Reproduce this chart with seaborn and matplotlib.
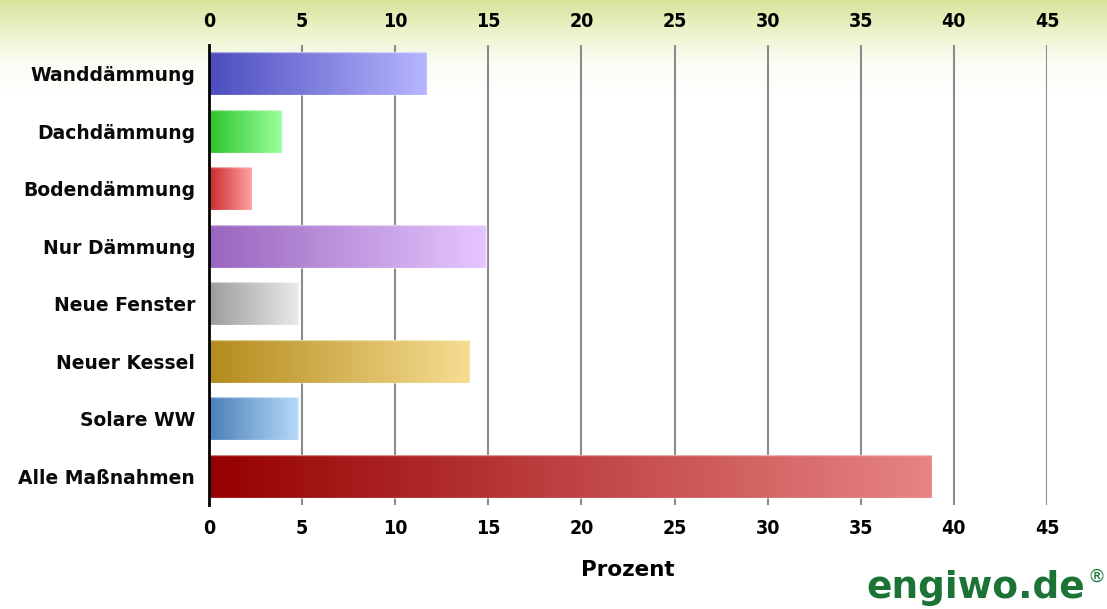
import matplotlib
matplotlib.use("Agg")
import matplotlib.pyplot as plt
import numpy as np
import pandas as pd
import seaborn as sns
from matplotlib import font_manager
from matplotlib.colors import LinearSegmentedColormap

# chart data
categories = ["Wanddämmung", "Dachdämmung", "Bodendämmung", "Nur Dämmung",
              "Neue Fenster", "Neuer Kessel", "Solare WW", "Alle Maßnahmen"]
values = [11.7, 3.9, 2.3, 14.9, 4.8, 14.0, 4.8, 38.8]
x_ticks = [0, 5, 10, 15, 20, 25, 30, 35, 40, 45]

# left (dark) and right (light) end of each bar gradient
grad_start = ["#4c4cbf", "#2cc42c", "#cc2a2a", "#9966bf", "#9c9c9c", "#b38b1c", "#4a7fb8", "#960000"]
grad_end = ["#b6b6ff", "#9cff9c", "#ffa2a2", "#e6c6ff", "#eaeaea", "#f7dd92", "#b6dafa", "#e88484"]

# a condensed face for the axis numbers, if one is installed
condensed = [f for f in font_manager.fontManager.ttflist
             if ("Narrow" in f.name or "Condensed" in f.name or f.stretch in ("condensed", 500 - 200))
             and f.weight in ("bold", 700)]
narrow_prop = font_manager.FontProperties(fname=condensed[0].fname) if condensed else \
    font_manager.FontProperties(family="Liberation Sans", weight="bold")
narrow_prop.set_size(14)

sns.set_style("white")
plt.rcParams["font.family"] = ["DejaVu Sans"]

df = pd.DataFrame({"Kategorie": categories, "Prozent": values})

fig = plt.figure(figsize=(11.07, 6.09), dpi=100)

# green-yellow fade at the top of the picture
bg = fig.add_axes([0, 0, 1, 1], zorder=-10)
bg_cmap = LinearSegmentedColormap.from_list("bg", ["#d6e49a", "#ecf3cc", "#fbfdf4", "#ffffff"])
bg.imshow(np.linspace(0, 1, 256).reshape(-1, 1), aspect="auto", cmap=bg_cmap,
          extent=[0, 1, 1 - 95 / 609, 1], origin="upper")
bg.set_xlim(0, 1)
bg.set_ylim(0, 1)
bg.axis("off")

ax = fig.add_axes([209 / 1107, 1 - 505 / 609, (1047 - 209) / 1107, 460 / 609])
ax.patch.set_alpha(0)

sns.barplot(data=df, x="Prozent", y="Kategorie", orient="h", width=0.74,
            color="white", ax=ax, zorder=3)

for patch, c0, c1 in zip(ax.patches, grad_start, grad_end):
    x0, y0 = patch.get_x(), patch.get_y()
    w, h = patch.get_width(), patch.get_height()
    cmap = LinearSegmentedColormap.from_list("bar", [c0, c1])
    im = ax.imshow(np.linspace(0, 1, 256).reshape(1, -1), cmap=cmap, aspect="auto",
                   extent=[x0, x0 + w, y0 + h, y0], zorder=3.5)
    im.set_clip_path(patch)
    patch.set_facecolor("none")
    patch.set_edgecolor((1, 1, 1, 0.5))
    patch.set_linewidth(1)
    patch.set_zorder(4)

ax.set_xlim(0, 45)
ax.set_ylim(len(categories) - 0.5, -0.5)
ax.set_xticks(x_ticks)
ax.xaxis.grid(True, color="#8a8a8a", linewidth=1.5, zorder=1)
ax.set_axisbelow(True)
for side in ["top", "right", "bottom"]:
    ax.spines[side].set_visible(False)
ax.spines["left"].set_color("black")
ax.spines["left"].set_linewidth(2)
ax.spines["left"].set_zorder(5)

ax.tick_params(axis="x", top=True, labeltop=True, length=0, pad=10, colors="black")
ax.tick_params(axis="y", length=0, pad=10, colors="black")
for lbl in ax.get_xticklabels():
    lbl.set_fontproperties(narrow_prop)
    lbl.set_color("black")
for lbl in ax.get_yticklabels():
    lbl.set_fontweight("bold")
    lbl.set_fontsize(13.5)
    lbl.set_color("#0a0a0a")

ax.set_ylabel("")
ax.set_xlabel("Prozent", fontsize=15.5, fontweight="bold", labelpad=16, color="black")

fig.text(1085 / 1107, 1 - 598 / 609, "engiwo.de", ha="right", va="baseline",
         fontsize=27, fontweight="bold", color="#1b7436")
fig.text(1087 / 1107, 1 - 582 / 609, "®", ha="left", va="baseline",
         fontsize=13, color="#1b7436")

fig.savefig("out.png", dpi=100)
